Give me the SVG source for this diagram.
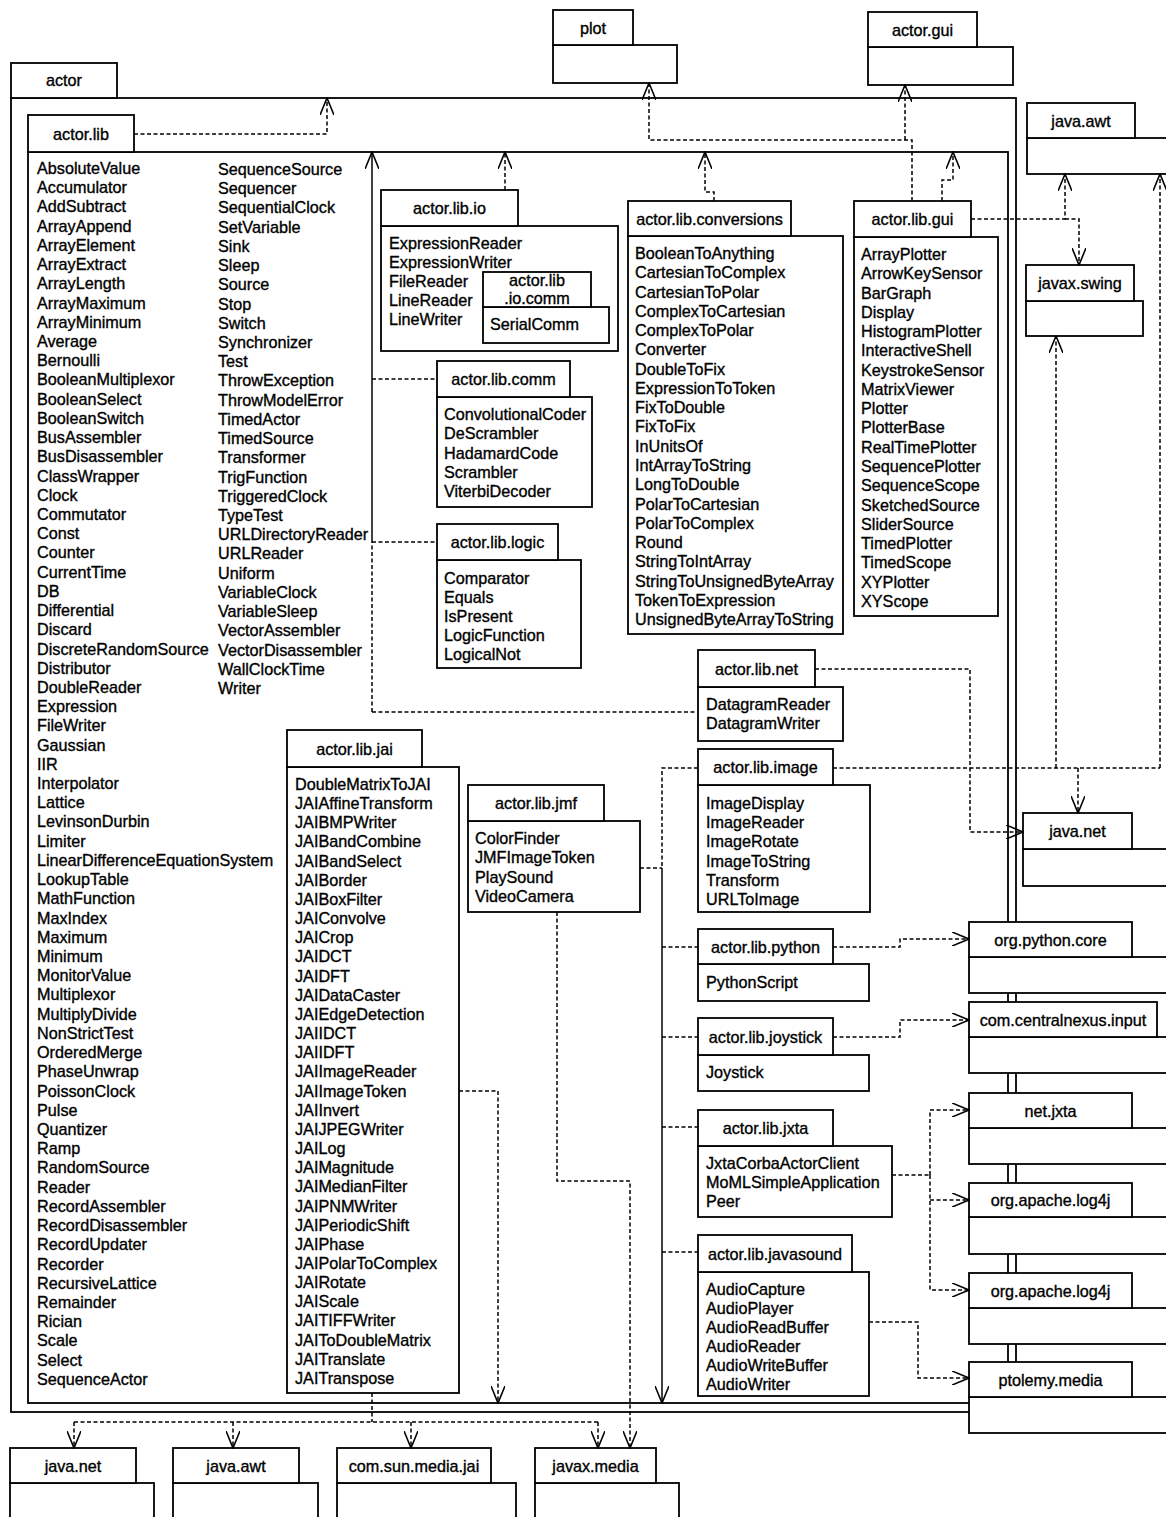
<svg xmlns="http://www.w3.org/2000/svg" width="1166" height="1517" viewBox="0 0 1166 1517">
<defs>
<style>
rect{fill:#fff;stroke:#000;stroke-width:1.8}
text{font-family:"Liberation Sans",Arial,Helvetica,sans-serif;font-size:16.2px;fill:#000;stroke:#000;stroke-width:0.35}
.c{text-anchor:middle}
.d{fill:none;stroke:#000;stroke-width:1.5;stroke-dasharray:4 2.5}
.s{fill:none;stroke:#000;stroke-width:1.5}
.a{marker-end:url(#ah)}
</style>
<marker id="ah" viewBox="0 0 18 14" refX="17" refY="7" markerWidth="18" markerHeight="14" markerUnits="userSpaceOnUse" orient="auto"><path d="M0,0 L17,7 L0,14" fill="none" stroke="#000" stroke-width="1.6"/></marker>
</defs>

<g id="actor">
<rect x="11" y="98" width="1005" height="1314"/>
<rect x="11" y="63" width="106" height="35"/>
<text class="c" x="64" y="86">actor</text>
</g>

<g id="actor.lib">
<rect x="28" y="152" width="980" height="1251"/>
<rect x="28" y="115" width="106" height="37"/>
<text class="c" x="81" y="139.5">actor.lib</text>
<text x="37" y="174"><tspan x="37" dy="0">AbsoluteValue</tspan><tspan x="37" dy="19.22">Accumulator</tspan><tspan x="37" dy="19.22">AddSubtract</tspan><tspan x="37" dy="19.22">ArrayAppend</tspan><tspan x="37" dy="19.22">ArrayElement</tspan><tspan x="37" dy="19.22">ArrayExtract</tspan><tspan x="37" dy="19.22">ArrayLength</tspan><tspan x="37" dy="19.22">ArrayMaximum</tspan><tspan x="37" dy="19.22">ArrayMinimum</tspan><tspan x="37" dy="19.22">Average</tspan><tspan x="37" dy="19.22">Bernoulli</tspan><tspan x="37" dy="19.22">BooleanMultiplexor</tspan><tspan x="37" dy="19.22">BooleanSelect</tspan><tspan x="37" dy="19.22">BooleanSwitch</tspan><tspan x="37" dy="19.22">BusAssembler</tspan><tspan x="37" dy="19.22">BusDisassembler</tspan><tspan x="37" dy="19.22">ClassWrapper</tspan><tspan x="37" dy="19.22">Clock</tspan><tspan x="37" dy="19.22">Commutator</tspan><tspan x="37" dy="19.22">Const</tspan><tspan x="37" dy="19.22">Counter</tspan><tspan x="37" dy="19.22">CurrentTime</tspan><tspan x="37" dy="19.22">DB</tspan><tspan x="37" dy="19.22">Differential</tspan><tspan x="37" dy="19.22">Discard</tspan><tspan x="37" dy="19.22">DiscreteRandomSource</tspan><tspan x="37" dy="19.22">Distributor</tspan><tspan x="37" dy="19.22">DoubleReader</tspan><tspan x="37" dy="19.22">Expression</tspan><tspan x="37" dy="19.22">FileWriter</tspan><tspan x="37" dy="19.22">Gaussian</tspan><tspan x="37" dy="19.22">IIR</tspan><tspan x="37" dy="19.22">Interpolator</tspan><tspan x="37" dy="19.22">Lattice</tspan><tspan x="37" dy="19.22">LevinsonDurbin</tspan><tspan x="37" dy="19.22">Limiter</tspan><tspan x="37" dy="19.22">LinearDifferenceEquationSystem</tspan><tspan x="37" dy="19.22">LookupTable</tspan><tspan x="37" dy="19.22">MathFunction</tspan><tspan x="37" dy="19.22">MaxIndex</tspan><tspan x="37" dy="19.22">Maximum</tspan><tspan x="37" dy="19.22">Minimum</tspan><tspan x="37" dy="19.22">MonitorValue</tspan><tspan x="37" dy="19.22">Multiplexor</tspan><tspan x="37" dy="19.22">MultiplyDivide</tspan><tspan x="37" dy="19.22">NonStrictTest</tspan><tspan x="37" dy="19.22">OrderedMerge</tspan><tspan x="37" dy="19.22">PhaseUnwrap</tspan><tspan x="37" dy="19.22">PoissonClock</tspan><tspan x="37" dy="19.22">Pulse</tspan><tspan x="37" dy="19.22">Quantizer</tspan><tspan x="37" dy="19.22">Ramp</tspan><tspan x="37" dy="19.22">RandomSource</tspan><tspan x="37" dy="19.22">Reader</tspan><tspan x="37" dy="19.22">RecordAssembler</tspan><tspan x="37" dy="19.22">RecordDisassembler</tspan><tspan x="37" dy="19.22">RecordUpdater</tspan><tspan x="37" dy="19.22">Recorder</tspan><tspan x="37" dy="19.22">RecursiveLattice</tspan><tspan x="37" dy="19.22">Remainder</tspan><tspan x="37" dy="19.22">Rician</tspan><tspan x="37" dy="19.22">Scale</tspan><tspan x="37" dy="19.22">Select</tspan><tspan x="37" dy="19.22">SequenceActor</tspan></text>
<text x="218" y="175"><tspan x="218" dy="0">SequenceSource</tspan><tspan x="218" dy="19.22">Sequencer</tspan><tspan x="218" dy="19.22">SequentialClock</tspan><tspan x="218" dy="19.22">SetVariable</tspan><tspan x="218" dy="19.22">Sink</tspan><tspan x="218" dy="19.22">Sleep</tspan><tspan x="218" dy="19.22">Source</tspan><tspan x="218" dy="19.22">Stop</tspan><tspan x="218" dy="19.22">Switch</tspan><tspan x="218" dy="19.22">Synchronizer</tspan><tspan x="218" dy="19.22">Test</tspan><tspan x="218" dy="19.22">ThrowException</tspan><tspan x="218" dy="19.22">ThrowModelError</tspan><tspan x="218" dy="19.22">TimedActor</tspan><tspan x="218" dy="19.22">TimedSource</tspan><tspan x="218" dy="19.22">Transformer</tspan><tspan x="218" dy="19.22">TrigFunction</tspan><tspan x="218" dy="19.22">TriggeredClock</tspan><tspan x="218" dy="19.22">TypeTest</tspan><tspan x="218" dy="19.22">URLDirectoryReader</tspan><tspan x="218" dy="19.22">URLReader</tspan><tspan x="218" dy="19.22">Uniform</tspan><tspan x="218" dy="19.22">VariableClock</tspan><tspan x="218" dy="19.22">VariableSleep</tspan><tspan x="218" dy="19.22">VectorAssembler</tspan><tspan x="218" dy="19.22">VectorDisassembler</tspan><tspan x="218" dy="19.22">WallClockTime</tspan><tspan x="218" dy="19.22">Writer</tspan></text>
</g>

<g id="plot">
<rect x="553" y="45" width="124" height="38"/>
<rect x="553" y="10" width="80" height="35"/>
<text class="c" x="593" y="33.5">plot</text>
</g>

<g id="actor.gui">
<rect x="868" y="47" width="145" height="38"/>
<rect x="868" y="12" width="109" height="35"/>
<text class="c" x="922.5" y="35.5">actor.gui</text>
</g>

<g id="java.awt.top">
<rect x="1027" y="138" width="150" height="36"/>
<rect x="1027" y="103" width="108" height="35"/>
<text class="c" x="1081" y="126.5">java.awt</text>
</g>

<g id="actor.lib.io">
<rect x="381" y="226" width="237" height="125"/>
<rect x="381" y="190" width="137" height="36"/>
<text class="c" x="449.5" y="214">actor.lib.io</text>
<text x="389" y="249"><tspan x="389" dy="0">ExpressionReader</tspan><tspan x="389" dy="19.1">ExpressionWriter</tspan><tspan x="389" dy="19.1">FileReader</tspan><tspan x="389" dy="19.1">LineReader</tspan><tspan x="389" dy="19.1">LineWriter</tspan></text>
</g>

<g id="actor.lib.io.comm">
<rect x="483" y="307" width="126" height="36"/>
<rect x="483" y="272" width="108" height="35"/>
<text class="c" x="537" y="286">actor.lib</text>
<text class="c" x="537" y="304">.io.comm</text>
<text x="490" y="330">SerialComm</text>
</g>

<g id="actor.lib.conversions">
<rect x="628" y="236" width="215" height="398"/>
<rect x="628" y="201" width="163" height="35"/>
<text class="c" x="709.5" y="224.5">actor.lib.conversions</text>
<text x="635" y="259"><tspan x="635" dy="0">BooleanToAnything</tspan><tspan x="635" dy="19.27">CartesianToComplex</tspan><tspan x="635" dy="19.27">CartesianToPolar</tspan><tspan x="635" dy="19.27">ComplexToCartesian</tspan><tspan x="635" dy="19.27">ComplexToPolar</tspan><tspan x="635" dy="19.27">Converter</tspan><tspan x="635" dy="19.27">DoubleToFix</tspan><tspan x="635" dy="19.27">ExpressionToToken</tspan><tspan x="635" dy="19.27">FixToDouble</tspan><tspan x="635" dy="19.27">FixToFix</tspan><tspan x="635" dy="19.27">InUnitsOf</tspan><tspan x="635" dy="19.27">IntArrayToString</tspan><tspan x="635" dy="19.27">LongToDouble</tspan><tspan x="635" dy="19.27">PolarToCartesian</tspan><tspan x="635" dy="19.27">PolarToComplex</tspan><tspan x="635" dy="19.27">Round</tspan><tspan x="635" dy="19.27">StringToIntArray</tspan><tspan x="635" dy="19.27">StringToUnsignedByteArray</tspan><tspan x="635" dy="19.27">TokenToExpression</tspan><tspan x="635" dy="19.27">UnsignedByteArrayToString</tspan></text>
</g>

<g id="actor.lib.gui">
<rect x="854" y="237" width="144" height="379"/>
<rect x="854" y="201" width="117" height="36"/>
<text class="c" x="912.5" y="225">actor.lib.gui</text>
<text x="861" y="260"><tspan x="861" dy="0">ArrayPlotter</tspan><tspan x="861" dy="19.27">ArrowKeySensor</tspan><tspan x="861" dy="19.27">BarGraph</tspan><tspan x="861" dy="19.27">Display</tspan><tspan x="861" dy="19.27">HistogramPlotter</tspan><tspan x="861" dy="19.27">InteractiveShell</tspan><tspan x="861" dy="19.27">KeystrokeSensor</tspan><tspan x="861" dy="19.27">MatrixViewer</tspan><tspan x="861" dy="19.27">Plotter</tspan><tspan x="861" dy="19.27">PlotterBase</tspan><tspan x="861" dy="19.27">RealTimePlotter</tspan><tspan x="861" dy="19.27">SequencePlotter</tspan><tspan x="861" dy="19.27">SequenceScope</tspan><tspan x="861" dy="19.27">SketchedSource</tspan><tspan x="861" dy="19.27">SliderSource</tspan><tspan x="861" dy="19.27">TimedPlotter</tspan><tspan x="861" dy="19.27">TimedScope</tspan><tspan x="861" dy="19.27">XYPlotter</tspan><tspan x="861" dy="19.27">XYScope</tspan></text>
</g>

<g id="javax.swing">
<rect x="1026" y="301" width="117" height="35"/>
<rect x="1026" y="265" width="108" height="36"/>
<text class="c" x="1080" y="289">javax.swing</text>
</g>

<g id="actor.lib.comm">
<rect x="437" y="397" width="155" height="110"/>
<rect x="437" y="361" width="133" height="36"/>
<text class="c" x="503.5" y="385">actor.lib.comm</text>
<text x="444" y="420"><tspan x="444" dy="0">ConvolutionalCoder</tspan><tspan x="444" dy="19.25">DeScrambler</tspan><tspan x="444" dy="19.25">HadamardCode</tspan><tspan x="444" dy="19.25">Scrambler</tspan><tspan x="444" dy="19.25">ViterbiDecoder</tspan></text>
</g>

<g id="actor.lib.logic">
<rect x="437" y="560" width="144" height="108"/>
<rect x="437" y="524" width="121" height="36"/>
<text class="c" x="497.5" y="548">actor.lib.logic</text>
<text x="444" y="584"><tspan x="444" dy="0">Comparator</tspan><tspan x="444" dy="19">Equals</tspan><tspan x="444" dy="19">IsPresent</tspan><tspan x="444" dy="19">LogicFunction</tspan><tspan x="444" dy="19">LogicalNot</tspan></text>
</g>

<g id="actor.lib.net">
<rect x="698" y="687" width="145" height="54"/>
<rect x="698" y="650" width="117" height="37"/>
<text class="c" x="756.5" y="674.5">actor.lib.net</text>
<text x="706" y="710"><tspan x="706" dy="0">DatagramReader</tspan><tspan x="706" dy="19">DatagramWriter</tspan></text>
</g>

<g id="actor.lib.image">
<rect x="698" y="785" width="172" height="127"/>
<rect x="698" y="749" width="135" height="36"/>
<text class="c" x="765.5" y="773">actor.lib.image</text>
<text x="706" y="809"><tspan x="706" dy="0">ImageDisplay</tspan><tspan x="706" dy="19.2">ImageReader</tspan><tspan x="706" dy="19.2">ImageRotate</tspan><tspan x="706" dy="19.2">ImageToString</tspan><tspan x="706" dy="19.2">Transform</tspan><tspan x="706" dy="19.2">URLToImage</tspan></text>
</g>

<g id="java.net.right">
<rect x="1023" y="849" width="150" height="37"/>
<rect x="1023" y="813" width="109" height="36"/>
<text class="c" x="1077.5" y="837">java.net</text>
</g>

<g id="actor.lib.jai">
<rect x="287" y="767" width="172" height="626"/>
<rect x="287" y="730" width="135" height="37"/>
<text class="c" x="354.5" y="754.5">actor.lib.jai</text>
<text x="295" y="790"><tspan x="295" dy="0">DoubleMatrixToJAI</tspan><tspan x="295" dy="19.16">JAIAffineTransform</tspan><tspan x="295" dy="19.16">JAIBMPWriter</tspan><tspan x="295" dy="19.16">JAIBandCombine</tspan><tspan x="295" dy="19.16">JAIBandSelect</tspan><tspan x="295" dy="19.16">JAIBorder</tspan><tspan x="295" dy="19.16">JAIBoxFilter</tspan><tspan x="295" dy="19.16">JAIConvolve</tspan><tspan x="295" dy="19.16">JAICrop</tspan><tspan x="295" dy="19.16">JAIDCT</tspan><tspan x="295" dy="19.16">JAIDFT</tspan><tspan x="295" dy="19.16">JAIDataCaster</tspan><tspan x="295" dy="19.16">JAIEdgeDetection</tspan><tspan x="295" dy="19.16">JAIIDCT</tspan><tspan x="295" dy="19.16">JAIIDFT</tspan><tspan x="295" dy="19.16">JAIImageReader</tspan><tspan x="295" dy="19.16">JAIImageToken</tspan><tspan x="295" dy="19.16">JAIInvert</tspan><tspan x="295" dy="19.16">JAIJPEGWriter</tspan><tspan x="295" dy="19.16">JAILog</tspan><tspan x="295" dy="19.16">JAIMagnitude</tspan><tspan x="295" dy="19.16">JAIMedianFilter</tspan><tspan x="295" dy="19.16">JAIPNMWriter</tspan><tspan x="295" dy="19.16">JAIPeriodicShift</tspan><tspan x="295" dy="19.16">JAIPhase</tspan><tspan x="295" dy="19.16">JAIPolarToComplex</tspan><tspan x="295" dy="19.16">JAIRotate</tspan><tspan x="295" dy="19.16">JAIScale</tspan><tspan x="295" dy="19.16">JAITIFFWriter</tspan><tspan x="295" dy="19.16">JAIToDoubleMatrix</tspan><tspan x="295" dy="19.16">JAITranslate</tspan><tspan x="295" dy="19.16">JAITranspose</tspan></text>
</g>

<g id="actor.lib.jmf">
<rect x="468" y="821" width="172" height="91"/>
<rect x="468" y="785" width="136" height="36"/>
<text class="c" x="536" y="809">actor.lib.jmf</text>
<text x="475" y="844"><tspan x="475" dy="0">ColorFinder</tspan><tspan x="475" dy="19.3">JMFImageToken</tspan><tspan x="475" dy="19.3">PlaySound</tspan><tspan x="475" dy="19.3">VideoCamera</tspan></text>
</g>

<g id="actor.lib.python">
<rect x="698" y="964" width="171" height="37"/>
<rect x="698" y="929" width="135" height="35"/>
<text class="c" x="765.5" y="952.5">actor.lib.python</text>
<text x="706" y="988">PythonScript</text>
</g>

<g id="org.python.core">
<rect x="969" y="957" width="200" height="36"/>
<rect x="969" y="922" width="163" height="35"/>
<text class="c" x="1050.5" y="945.5">org.python.core</text>
</g>

<g id="actor.lib.joystick">
<rect x="698" y="1055" width="171" height="36"/>
<rect x="698" y="1018" width="135" height="37"/>
<text class="c" x="765.5" y="1042.5">actor.lib.joystick</text>
<text x="706" y="1078">Joystick</text>
</g>

<g id="com.centralnexus.input">
<rect x="969" y="1037" width="200" height="36"/>
<rect x="969" y="1002" width="188" height="35"/>
<text class="c" x="1063" y="1025.5">com.centralnexus.input</text>
</g>

<g id="actor.lib.jxta">
<rect x="698" y="1146" width="194" height="71"/>
<rect x="698" y="1110" width="135" height="36"/>
<text class="c" x="765.5" y="1134">actor.lib.jxta</text>
<text x="706" y="1169"><tspan x="706" dy="0">JxtaCorbaActorClient</tspan><tspan x="706" dy="19">MoMLSimpleApplication</tspan><tspan x="706" dy="19">Peer</tspan></text>
</g>

<g id="net.jxta">
<rect x="969" y="1128" width="200" height="36"/>
<rect x="969" y="1093" width="163" height="35"/>
<text class="c" x="1050.5" y="1116.5">net.jxta</text>
</g>

<g id="org.apache.log4j.1">
<rect x="969" y="1217" width="200" height="37"/>
<rect x="969" y="1183" width="163" height="34"/>
<text class="c" x="1050.5" y="1206">org.apache.log4j</text>
</g>

<g id="actor.lib.javasound">
<rect x="698" y="1272" width="171" height="124"/>
<rect x="698" y="1235" width="154" height="37"/>
<text class="c" x="775" y="1259.5">actor.lib.javasound</text>
<text x="706" y="1295"><tspan x="706" dy="0">AudioCapture</tspan><tspan x="706" dy="19">AudioPlayer</tspan><tspan x="706" dy="19">AudioReadBuffer</tspan><tspan x="706" dy="19">AudioReader</tspan><tspan x="706" dy="19">AudioWriteBuffer</tspan><tspan x="706" dy="19">AudioWriter</tspan></text>
</g>

<g id="org.apache.log4j.2">
<rect x="969" y="1308" width="200" height="36"/>
<rect x="969" y="1273" width="163" height="35"/>
<text class="c" x="1050.5" y="1296.5">org.apache.log4j</text>
</g>

<g id="ptolemy.media">
<rect x="969" y="1397" width="200" height="36"/>
<rect x="969" y="1362" width="163" height="35"/>
<text class="c" x="1050.5" y="1385.5">ptolemy.media</text>
</g>

<g id="java.net.bottom">
<rect x="10" y="1483" width="144" height="50"/>
<rect x="10" y="1448" width="126" height="35"/>
<text class="c" x="73" y="1471.5">java.net</text>
</g>

<g id="java.awt.bottom">
<rect x="173" y="1483" width="145" height="50"/>
<rect x="173" y="1448" width="126" height="35"/>
<text class="c" x="236" y="1471.5">java.awt</text>
</g>

<g id="com.sun.media.jai">
<rect x="337" y="1483" width="179" height="50"/>
<rect x="337" y="1448" width="154" height="35"/>
<text class="c" x="414" y="1471.5">com.sun.media.jai</text>
</g>

<g id="javax.media">
<rect x="535" y="1483" width="144" height="50"/>
<rect x="535" y="1448" width="121" height="35"/>
<text class="c" x="595.5" y="1471.5">javax.media</text>
</g>

<g id="connectors">
<path class="d a" d="M134,134 H327 V98"/>
<path class="s a" d="M372,543 V152"/>
<path class="d" d="M372,712 V543"/>
<path class="d" d="M372,379 H437 M372,542 H437 M372,712 H698"/>
<path class="d a" d="M505,190 V152"/>
<path class="d a" d="M714,201 V192 H705 V152"/>
<path class="d a" d="M942,201 V180 H953 V152"/>
<path class="d a" d="M912,201 V140 H649 V83"/>
<path class="d a" d="M905,140 V85"/>
<path class="d a" d="M971,219 H1065 V174"/>
<path class="d a" d="M1065,219 H1079 V265"/>
<path class="d" d="M833,768 H1160"/>
<path class="d a" d="M1160,768 V174"/>
<path class="d a" d="M1056,768 V336"/>
<path class="d a" d="M1078,768 V813"/>
<path class="d a" d="M815,669 H970 V832 H1023"/>
<path class="d a" d="M833,947 H900 V939 H969"/>
<path class="d a" d="M833,1037 H900 V1020 H969"/>
<path class="d" d="M892,1175 H930"/>
<path class="d a" d="M930,1175 V1110 H969"/>
<path class="d a" d="M930,1200 H969"/>
<path class="d a" d="M930,1175 V1290 H969"/>
<path class="d a" d="M869,1322 H918 V1378 H969"/>
<path class="d a" d="M459,1091 H498 V1403"/>
<path class="d a" d="M557,912 V1181 H630 V1448"/>
<path class="d" d="M640,868 H662"/>
<path class="d" d="M698,768 H662 V868"/>
<path class="s a" d="M662,868 V1403"/>
<path class="d" d="M662,947 H698 M662,1037 H698 M662,1127 H698 M662,1252 H698"/>
<path class="d" d="M372,1393 V1422 M74,1422 H598"/>
<path class="d a" d="M74,1422 V1448"/>
<path class="d a" d="M233,1422 V1448"/>
<path class="d a" d="M411,1422 V1448"/>
<path class="d a" d="M598,1422 V1448"/>
</g>
</svg>
